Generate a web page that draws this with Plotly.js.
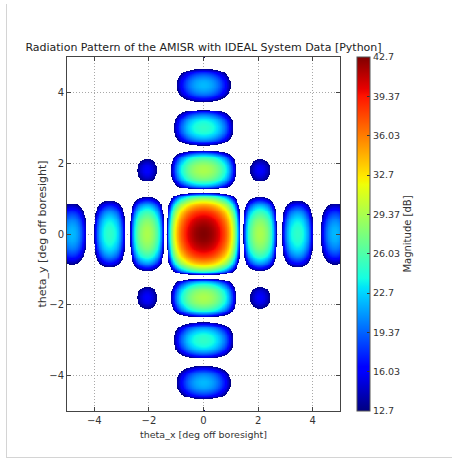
<!DOCTYPE html>
<html>
<head>
<meta charset="utf-8">
<script src="https://cdn.plot.ly/plotly-3.0.1.min.js"></script>
<style>
  html, body { margin: 0; padding: 0; background: #fff; }
  #wrap { position: relative; width: 452px; height: 460px; }
  #chart { width: 452px; height: 460px; }
  #frame { position: absolute; left: 6px; top: 4px; width: 446px; height: 453px;
           border-left: 1px solid #d4d4d4; border-bottom: 1px solid #d4d4d4; pointer-events: none; }
</style>
</head>
<body>
<div id="wrap"><div id="chart"></div><div id="frame"></div></div>
<script>
// ---- values ----
// null positions (deg off boresight, positive side; pattern symmetric)
const xNulls = [1.38, 2.75, 4.12, 5.5];
const yNulls = [1.2, 2.4, 3.6, 4.8, 6.0];
// lobe peak levels relative to boresight (dB): main lobe, 1st, 2nd, 3rd ... sidelobe
const xLobePeaksDb = [0, -13.3, -17.8, -20.8];
const yLobePeaksDb = [0, -13.3, -17.8, -20.8, -22.9];
const peakDb = 42.7;
const floorDb = 12.7;
const cbTicks = [12.7, 16.03, 19.37, 22.7, 26.03, 29.37, 32.7, 36.03, 39.37, 42.7];
const cbTickText = ["12.7", "16.03", "19.37", "22.7", "26.03", "29.37", "32.7", "36.03", "39.37", "42.7"];
const xTicks = [-4, -2, 0, 2, 4];
const yTicks = [-4, -2, 0, 2, 4];

// ---- build grid from lobe table ----
function lobePower(t, nulls, peaks) {
  const a = Math.abs(t);
  if (a < nulls[0]) {
    const u = a / nulls[0];
    if (u === 0) return 1;
    const s = Math.sin(Math.PI * u) / (Math.PI * u);
    return s * s;
  }
  for (let k = 1; k < nulls.length; k++) {
    if (a < nulls[k]) {
      const lo = nulls[k - 1], hi = nulls[k];
      const s = Math.sin(Math.PI * (a - lo) / (hi - lo));
      return Math.pow(10, peaks[k] / 10) * s * s;
    }
  }
  return 0;
}
const step = 0.025;
const xs = [], ys = [];
for (let i = 0; i <= Math.round(10 / step); i++) xs.push(-5 + i * step);
for (let i = 0; i <= Math.round(10 / step); i++) ys.push(-5 + i * step);
const px = xs.map(v => lobePower(v, xNulls, xLobePeaksDb));
const py = ys.map(v => lobePower(v, yNulls, yLobePeaksDb));
const z = py.map(pyv => px.map(pxv => {
  const p = pxv * pyv;
  if (p <= 0) return null;
  const db = peakDb + 10 * Math.log10(p);
  return db < floorDb ? null : db;
}));

const jet = [
  [0, 'rgb(0,0,128)'], [0.11, 'rgb(0,0,255)'], [0.125, 'rgb(0,0,255)'],
  [0.34, 'rgb(0,219,255)'], [0.35, 'rgb(0,230,247)'], [0.375, 'rgb(21,255,226)'],
  [0.64, 'rgb(239,255,8)'], [0.65, 'rgb(247,245,0)'], [0.66, 'rgb(255,236,0)'],
  [0.89, 'rgb(255,19,0)'], [0.91, 'rgb(232,0,0)'], [1, 'rgb(128,0,0)']
];

const FF = 'DejaVu Sans, sans-serif';
const font = { family: FF, size: 10, color: '#333' };
const trace = {
  type: 'heatmap', x: xs, y: ys, z: z,
  zmin: floorDb, zmax: peakDb, colorscale: jet, zsmooth: false,
  hoverongaps: false,
  colorbar: {
    x: 1.062, xanchor: 'left', y: 0.5, yanchor: 'middle', len: 1, lenmode: 'fraction',
    thickness: 13, xpad: 0, ypad: 0, outlinewidth: 1, outlinecolor: '#555',
    tickvals: cbTicks, ticktext: cbTickText, ticks: 'inside', ticklen: 3, tickcolor: '#333',
    tickfont: { family: FF, size: 9.5, color: '#333' },
    title: { text: 'Magnitude [dB]', side: 'right', font: { family: FF, size: 10, color: '#333' } }
  }
};
const axisCommon = {
  range: [-5, 5], showline: true, linecolor: '#444', linewidth: 1, mirror: 'ticks',
  ticks: 'inside', ticklen: 4, tickcolor: '#444', showgrid: true, gridcolor: '#a8a8a8',
  griddash: '1px,2px', gridwidth: 1, zeroline: false, tickfont: font
};
const layout = {
  width: 452, height: 460,
  margin: { l: 67, r: 112, t: 57, b: 49 },
  paper_bgcolor: '#fff', plot_bgcolor: '#fff',
  title: { text: 'Radiation Pattern of the AMISR with IDEAL System Data [Python]',
           x: 0.5, xanchor: 'center', xref: 'paper', y: 1 - 47 / 460, yanchor: 'middle', yref: 'container',
           font: { family: FF, size: 11, color: '#222' } },
  xaxis: Object.assign({}, axisCommon, { tickvals: xTicks, ticktext: xTicks.map(v => v < 0 ? '\u2212' + (-v) : String(v)),
    title: { text: 'theta_x [deg off boresight]', standoff: 6, font: { family: FF, size: 9.5, color: '#333' } } }),
  yaxis: Object.assign({}, axisCommon, { tickvals: yTicks, ticktext: yTicks.map(v => v < 0 ? '\u2212' + (-v) : String(v)),
    title: { text: 'theta_y [deg off boresight]', standoff: 0, font: { family: FF, size: 11, color: '#333' } } })
};
Plotly.newPlot('chart', [trace], layout, { displayModeBar: false, staticPlot: true });
</script>
</body>
</html>
